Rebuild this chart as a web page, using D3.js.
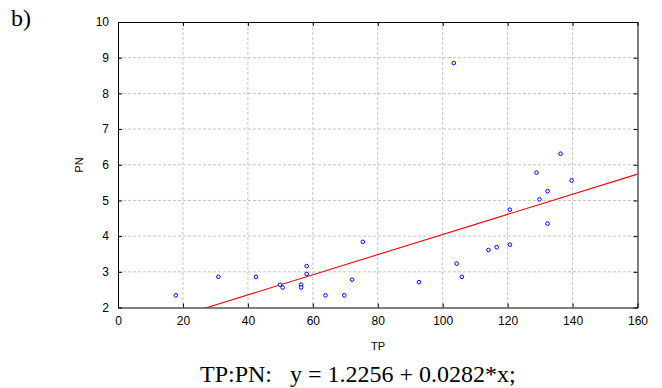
<!DOCTYPE html>
<html>
<head>
<meta charset="utf-8">
<script src="https://cdn.jsdelivr.net/npm/d3@7"></script>
<style>
  body { margin: 0; background: #fff; }
  text { font-family: "Liberation Sans", Arial, sans-serif; }
  .serif { font-family: "Liberation Serif", "Times New Roman", serif; }
</style>
</head>
<body>
<script>
// TP vs PN samples
const tp = [17.8, 30.9, 42.5, 49.9, 50.7, 56.4, 56.4, 58.1, 58.1, 63.9, 69.7, 72.1, 75.4,
            92.7, 103.4, 104.3, 105.9, 114.1, 116.6, 120.7, 120.7, 128.9, 129.8, 132.3, 132.3, 136.3, 139.7];
const pn = [2.34, 2.86, 2.86, 2.64, 2.56, 2.64, 2.56, 3.16, 2.94, 2.34, 2.34, 2.78, 3.84,
            2.71, 8.85, 3.23, 2.86, 3.61, 3.69, 3.76, 4.74, 5.78, 5.03, 5.26, 4.35, 6.31, 5.56];
const xTicks = [0, 20, 40, 60, 80, 100, 120, 140, 160];
const yTicks = [2, 3, 4, 5, 6, 7, 8, 9, 10];
const intercept = 1.2256, slope = 0.0282;

const width = 662, height = 388;
const plotL = 118, plotR = 637.5, plotT = 22, plotB = 307.5;

const svg = d3.select("body").append("svg")
  .attr("width", width)
  .attr("height", height);

const x = d3.scaleLinear().domain([0, 160]).range([plotL, plotR]);
const y = d3.scaleLinear().domain([2, 10]).range([plotB, plotT]);

// grid
const grid = svg.append("g").attr("stroke", "#c4c4c4").attr("stroke-dasharray", "3,2");
grid.selectAll(".gx").data(xTicks.slice(1, -1)).enter().append("line")
  .attr("x1", d => x(d)).attr("x2", d => x(d))
  .attr("y1", plotT).attr("y2", plotB);
grid.selectAll(".gy").data(yTicks.slice(1, -1)).enter().append("line")
  .attr("x1", plotL).attr("x2", plotR)
  .attr("y1", d => y(d)).attr("y2", d => y(d));

// regression line, clipped to the plot box
svg.append("clipPath").attr("id", "clip")
  .append("rect").attr("x", plotL).attr("y", plotT)
  .attr("width", plotR - plotL).attr("height", plotB - plotT);

svg.append("line")
  .attr("clip-path", "url(#clip)")
  .attr("x1", x(0)).attr("y1", y(intercept))
  .attr("x2", x(160)).attr("y2", y(intercept + slope * 160))
  .attr("stroke", "#ff0000")
  .attr("stroke-width", 1.1);

// axes, ticks pointing inward
const fmt = d3.format("d");
svg.append("g")
  .attr("transform", "translate(0," + plotB + ")")
  .call(d3.axisBottom(x).tickValues(xTicks).tickSizeInner(-4).tickSizeOuter(0).tickPadding(9).tickFormat(fmt));
svg.append("g")
  .attr("transform", "translate(" + plotL + ",0)")
  .call(d3.axisLeft(y).tickValues(yTicks).tickSizeInner(-4).tickSizeOuter(0).tickPadding(9).tickFormat(fmt));
svg.append("g")
  .attr("transform", "translate(0," + plotT + ")")
  .call(d3.axisTop(x).tickValues(xTicks).tickSizeInner(-4).tickSizeOuter(0).tickFormat(""));
svg.append("g")
  .attr("transform", "translate(" + plotR + ",0)")
  .call(d3.axisRight(y).tickValues(yTicks).tickSizeInner(-4).tickSizeOuter(0).tickFormat(""));

svg.selectAll(".tick text")
  .attr("font-family", "Liberation Sans, Arial, sans-serif")
  .attr("font-size", 12)
  .attr("fill", "#000");
svg.selectAll(".domain").attr("stroke", "#000");

// points
svg.selectAll(".pt")
  .data(tp)
  .enter().append("circle")
  .attr("class", "pt")
  .attr("cx", d => x(d))
  .attr("cy", (d, i) => y(pn[i]))
  .attr("r", 1.8)
  .attr("fill", "#fff")
  .attr("stroke", "#0000ff")
  .attr("stroke-width", 1);

// labels
svg.append("text")
  .attr("transform", "translate(83,165) rotate(-90)")
  .attr("text-anchor", "middle")
  .attr("font-size", 11)
  .text("PN");

svg.append("text")
  .attr("x", 378).attr("y", 350)
  .attr("text-anchor", "middle")
  .attr("font-size", 11)
  .text("TP");

svg.append("text")
  .attr("class", "serif")
  .attr("x", 11).attr("y", 26)
  .attr("font-size", 24)
  .text("b)");

svg.append("text")
  .attr("class", "serif")
  .attr("x", 200).attr("y", 382)
  .attr("font-size", 24)
  .style("white-space", "pre")
  .text("TP:PN:   y = 1.2256 + 0.0282*x;");
</script>
</body>
</html>
